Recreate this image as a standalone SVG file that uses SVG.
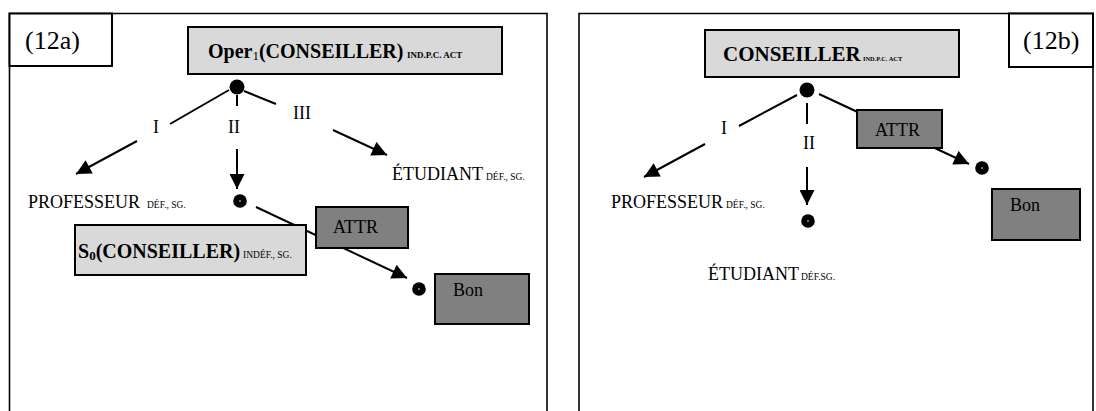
<svg xmlns="http://www.w3.org/2000/svg" width="1096" height="411" viewBox="0 0 1096 411">
  <defs>
    <marker id="arrow" viewBox="0 0 10 10" refX="10" refY="5" markerWidth="16" markerHeight="15" markerUnits="userSpaceOnUse" orient="auto">
      <path d="M0,0 L10,5 L0,10 Z" fill="#000"/>
    </marker>
    <style>
      .frame { fill: none; stroke: #000; stroke-width: 1.6; }
      .tag { fill: #fff; stroke: #000; stroke-width: 2; }
      .light { fill: #d9d9d9; stroke: #000; stroke-width: 2; }
      .dark { fill: #808080; stroke: #000; stroke-width: 2; }
      .edge { stroke: #000; stroke-width: 2; fill: none; }
      .arr { stroke: #000; stroke-width: 2; fill: none; marker-end: url(#arrow); }
      .dot { fill: #000; }
      .pip { fill: #fff; }
      text { font-family: "Liberation Serif", "Times New Roman", serif; fill: #000; }
      .t18 { font-size: 18px; }
      .t26 { font-size: 26px; }
      .b20 { font-size: 20px; font-weight: bold; }
      .b21 { font-size: 21px; font-weight: bold; }
      .sub { font-size: 9.5px; }
      .subb { font-size: 9px; font-weight: bold; }
      .subs { font-size: 6.4px; font-weight: bold; }
    </style>
  </defs>

  <!-- panel frames -->
  <g id="frames">
    <path class="frame" d="M9.5,420 V13.5 H547 V420"/>
    <path class="frame" d="M579,420 V13.5 H1093 V420"/>
  </g>

  <!-- connectors -->
  <g id="connectors">
    <!-- panel a -->
    <line class="edge" x1="229" y1="90" x2="170" y2="124"/>
    <line class="edge" x1="237" y1="95" x2="237" y2="106"/>
    <line class="edge" x1="244" y1="91" x2="276" y2="104"/>
    <line class="arr" x1="137" y1="141" x2="76" y2="174"/>
    <line class="arr" x1="237" y1="149" x2="237" y2="189"/>
    <line class="arr" x1="333" y1="130" x2="387" y2="155"/>
    <line class="arr" x1="256" y1="207" x2="407" y2="278"/>
    <!-- panel b -->
    <line class="edge" x1="797" y1="95" x2="739" y2="126"/>
    <line class="edge" x1="807" y1="103" x2="807" y2="124"/>
    <line class="arr" x1="705" y1="144" x2="644" y2="177"/>
    <line class="arr" x1="807" y1="167" x2="807" y2="205"/>
    <line class="arr" x1="819" y1="94" x2="969" y2="164"/>
  </g>

  <!-- edge labels -->
  <g id="edge-labels">
    <text class="t18" x="153" y="133">I</text>
    <text class="t18" x="228" y="133">II</text>
    <text class="t18" x="293" y="119">III</text>
    <text class="t18" x="721" y="134">I</text>
    <text class="t18" x="803" y="149">II</text>
  </g>

  <!-- panel a -->
  <g id="tag-12a">
    <rect class="tag" x="9.5" y="13.5" width="102.5" height="52.5"/>
    <text class="t26" x="25" y="49">(12a)</text>
  </g>
  <g id="node-oper">
    <rect class="light" x="188" y="27" width="314" height="47"/>
    <text class="b20" x="208" y="58">Oper<tspan font-size="13" font-weight="normal" dy="2">1</tspan><tspan dy="-2">(CONSEILLER)</tspan></text>
    <text class="subb" x="407" y="58">IND.P.C. ACT</text>
  </g>
  <g id="root-a">
    <circle class="dot" cx="237" cy="87" r="7.5"/>
  </g>
  <g id="node-professeur-a">
    <text class="t18" x="28" y="208">PROFESSEUR</text>
    <text class="sub" x="147" y="208">DÉF., SG.</text>
  </g>
  <g id="node-etudiant-a">
    <text class="t18" x="392" y="180">ÉTUDIANT</text>
    <text class="sub" x="486" y="180">DÉF., SG.</text>
  </g>
  <g id="dot-s0">
    <circle class="dot" cx="240" cy="201" r="6.8"/>
    <circle class="pip" cx="240" cy="201" r="0.8"/>
  </g>
  <g id="node-s0">
    <rect class="light" x="75" y="225" width="231" height="50"/>
    <text class="b20" x="78" y="258">S<tspan font-size="13" dy="2">0</tspan><tspan dy="-2">(CONSEILLER)</tspan></text>
    <text class="sub" x="243" y="258">INDÉF., SG.</text>
  </g>
  <g id="node-attr-a">
    <rect class="dark" x="316" y="207" width="92" height="41"/>
    <text class="t18" x="333" y="233">ATTR</text>
  </g>
  <g id="dot-bon-a">
    <circle class="dot" cx="419" cy="289" r="6.8"/>
    <circle class="pip" cx="419" cy="289" r="0.8"/>
  </g>
  <g id="node-bon-a">
    <rect class="dark" x="435" y="274" width="94" height="50"/>
    <text class="t18" x="453" y="296">Bon</text>
  </g>

  <!-- panel b -->
  <g id="tag-12b">
    <rect class="tag" x="1009" y="13.5" width="84" height="53.5"/>
    <text class="t26" x="1023" y="49">(12b)</text>
  </g>
  <g id="node-conseiller">
    <rect class="light" x="705" y="30" width="254" height="47"/>
    <text class="b21" x="723" y="61">CONSEILLER</text>
    <text class="subs" x="863" y="61">IND.P.C. ACT</text>
  </g>
  <g id="root-b">
    <circle class="dot" cx="807" cy="90" r="7.5"/>
  </g>
  <g id="node-professeur-b">
    <text class="t18" x="611" y="208">PROFESSEUR</text>
    <text class="sub" x="726" y="208">DÉF., SG.</text>
  </g>
  <g id="dot-etudiant-b">
    <circle class="dot" cx="808" cy="221" r="6.8"/>
    <circle class="pip" cx="808" cy="221" r="0.8"/>
  </g>
  <g id="node-etudiant-b">
    <text class="t18" x="708" y="280">ÉTUDIANT</text>
    <text class="sub" x="801" y="280">DÉF.SG.</text>
  </g>
  <g id="node-attr-b">
    <rect class="dark" x="857" y="110" width="85" height="38"/>
    <text class="t18" x="875" y="136">ATTR</text>
  </g>
  <g id="dot-bon-b">
    <circle class="dot" cx="982" cy="168" r="6.8"/>
    <circle class="pip" cx="982" cy="168" r="0.8"/>
  </g>
  <g id="node-bon-b">
    <rect class="dark" x="992" y="189" width="88" height="51"/>
    <text class="t18" x="1010" y="211">Bon</text>
  </g>
</svg>
